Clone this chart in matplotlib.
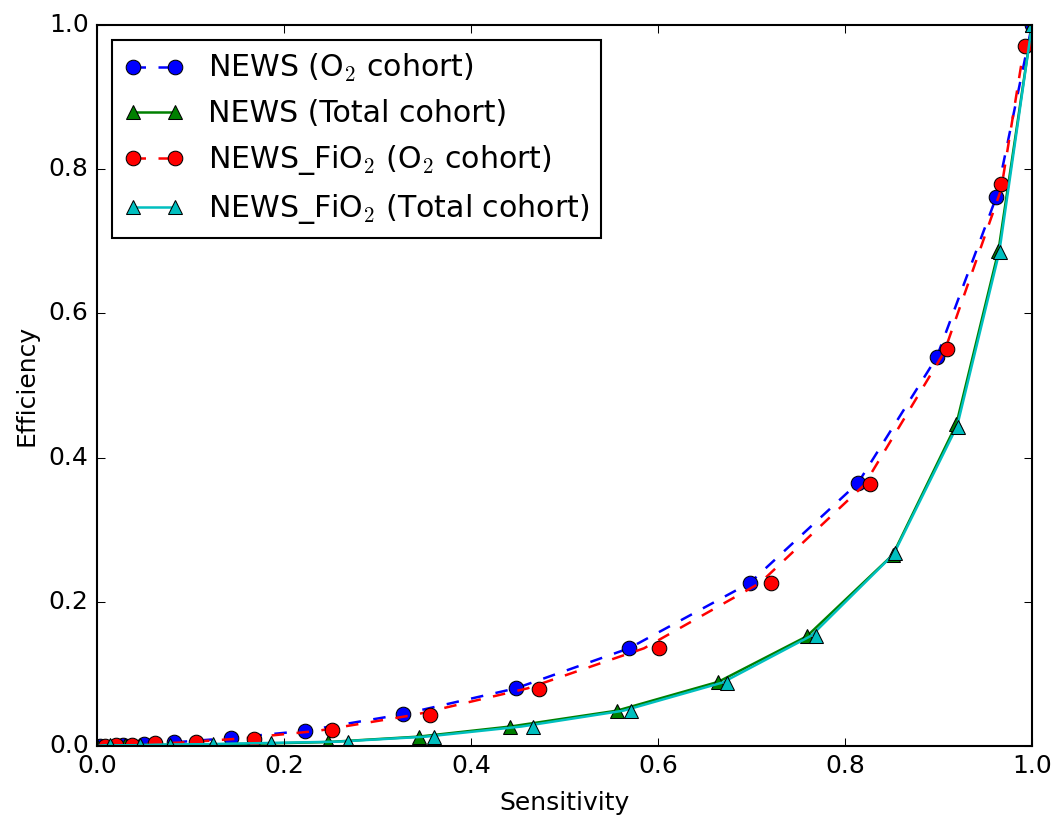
import matplotlib
matplotlib.use('Agg')
import matplotlib.pyplot as plt
from matplotlib.lines import Line2D

plt.style.use('classic')
plt.rcParams['lines.markersize'] = 7
plt.rcParams['lines.linewidth'] = 1.2

# NEWS, O2 cohort
news_o2_x = [0.003, 0.028, 0.050, 0.082, 0.143, 0.222, 0.327, 0.448, 0.569, 0.698, 0.814, 0.898, 0.962, 1.0]
news_o2_y = [0.0005, 0.002, 0.003, 0.005, 0.011, 0.021, 0.044, 0.080, 0.1355, 0.226, 0.365, 0.539, 0.762, 1.0]

# NEWS, total cohort
news_tot_x = [0.0, 0.030, 0.060, 0.104, 0.165, 0.247, 0.344, 0.442, 0.556, 0.6645, 0.759, 0.851, 0.919, 0.964, 1.0]
news_tot_y = [0.0, 0.001, 0.0015, 0.002, 0.003, 0.0055, 0.013, 0.027, 0.049, 0.089, 0.152, 0.265, 0.446, 0.686, 1.0]

# NEWS_FiO2, O2 cohort (points and fitted curve)
fio2_o2_x = [0.009, 0.020, 0.037, 0.062, 0.106, 0.168, 0.251, 0.356, 0.473, 0.601, 0.7205, 0.827, 0.909, 0.9665, 0.993]
fio2_o2_y = [0.0005, 0.001, 0.002, 0.004, 0.006, 0.010, 0.022, 0.043, 0.079, 0.1355, 0.2265, 0.363, 0.551, 0.779, 0.971]
fio2_o2_curve_x = [0.0, 0.014, 0.032, 0.056, 0.094, 0.155, 0.236, 0.341, 0.4605, 0.585, 0.709, 0.8205, 0.906, 0.967, 0.991, 1.0]
fio2_o2_curve_y = [0.0, 0.001, 0.002, 0.003, 0.005, 0.0105, 0.021, 0.0435, 0.080, 0.1355, 0.226, 0.362, 0.546, 0.772, 0.965, 1.0]

# NEWS_FiO2, total cohort (points and fitted curve)
fio2_tot_x = [0.014, 0.046, 0.078, 0.124, 0.186, 0.268, 0.360, 0.466, 0.571, 0.674, 0.769, 0.854, 0.921, 0.966, 1.0]
fio2_tot_y = [0.001, 0.001, 0.002, 0.0025, 0.004, 0.006, 0.013, 0.027, 0.049, 0.088, 0.153, 0.267, 0.443, 0.685, 1.0]
fio2_tot_curve_x = [0.0, 0.008, 0.040, 0.070, 0.114, 0.175, 0.257, 0.352, 0.454, 0.563, 0.669, 0.764, 0.852, 0.920, 0.965, 1.0]
fio2_tot_curve_y = [0.0, 0.001, 0.001, 0.002, 0.0025, 0.004, 0.006, 0.013, 0.027, 0.049, 0.088, 0.153, 0.266, 0.444, 0.685, 1.0]

labels = ['NEWS (O$_2$ cohort)', 'NEWS (Total cohort)',
          'NEWS_FiO$_2$ (O$_2$ cohort)', 'NEWS_FiO$_2$ (Total cohort)']

fig = plt.figure(figsize=(7.04, 824 / 150), dpi=150, facecolor='white')
ax = fig.add_axes([97 / 1056, 78 / 824, 935 / 1056, 721 / 824])

ax.plot(news_o2_x, news_o2_y, 'bo--')
ax.plot(news_tot_x, news_tot_y, 'g^-')
ax.plot(fio2_o2_curve_x, fio2_o2_curve_y, 'r--')
ax.plot(fio2_o2_x, fio2_o2_y, 'ro', linestyle='none')
ax.plot(fio2_tot_curve_x, fio2_tot_curve_y, 'c-')
ax.plot(fio2_tot_x, fio2_tot_y, 'c^', linestyle='none')

handles = [Line2D([], [], color='b', marker='o', linestyle='--'),
           Line2D([], [], color='g', marker='^', linestyle='-'),
           Line2D([], [], color='r', marker='o', linestyle='--'),
           Line2D([], [], color='c', marker='^', linestyle='-')]
ax.legend(handles, labels, loc='upper left')

ax.set_xlim(0, 1)
ax.set_ylim(0, 1)
ax.set_xlabel('Sensitivity', labelpad=6)
ax.set_ylabel('Efficiency')

fig.savefig('out.png', dpi=150, facecolor='white')
